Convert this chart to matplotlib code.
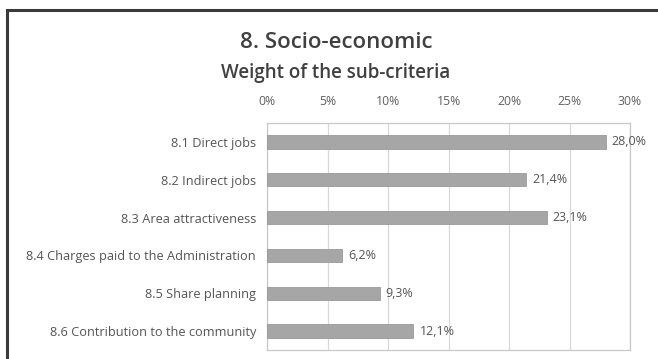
import numpy as np
import matplotlib.pyplot as plt
from matplotlib.patches import Rectangle

# data
categories = ['8.1 Direct jobs', '8.2 Indirect jobs', '8.3 Area attractiveness',
              '8.4 Charges paid to the Administration', '8.5 Share planning',
              '8.6 Contribution to the community']
weights = [28.0, 21.4, 23.1, 6.2, 9.3, 12.1]
ticks = [0, 5, 10, 15, 20, 25, 30]

plt.rcParams['font.family'] = ['Open Sans', 'DejaVu Sans']

fig = plt.figure(figsize=(6.58, 3.59), dpi=100)
W, H = 658, 359

# outer chart frame
fig.patches.append(Rectangle((7 / W, -0.05), 1.1, 1 - 10 / H + 0.05,
                             transform=fig.transFigure, fill=False,
                             edgecolor='#3a3a3a', linewidth=2.2))

ax = fig.add_axes([267 / W, 1 - 350 / H, (630 - 267) / W, (350 - 123) / H])
y = np.arange(len(categories))
ax.barh(y, weights, height=0.35, color='#a6a6a6', edgecolor='#999999', linewidth=0.6, zorder=3)
ax.set_ylim(len(categories) - 0.5, -0.5)
ax.set_xlim(0, 30)
ax.set_xticks(ticks)
ax.set_xticklabels([f'{t}%' for t in ticks])
ax.xaxis.tick_top()
ax.tick_params(axis='x', length=0, pad=11, labelsize=8.8, labelcolor='#606060')
ax.set_yticks(y)
ax.set_yticklabels(categories)
ax.tick_params(axis='y', length=0, pad=8, labelsize=9.2, labelcolor='#555555')
ax.grid(axis='x', color='#d8d8d8', linewidth=0.9, zorder=0)
for s in ax.spines.values():
    s.set_color('#c8c8c8')
    s.set_linewidth(0.9)

for yi, v in zip(y, weights):
    ax.text(v + 0.5, yi, f'{v:.1f}%'.replace('.', ','), va='center', ha='left',
            fontsize=9, color='#555555')

fig.text(336 / W, 1 - 42 / H, '8. Socio-economic', ha='center', va='center',
         fontsize=16, color='#404040', fontweight='semibold')
fig.text(336 / W, 1 - 73 / H, 'Weight of the sub-criteria', ha='center', va='center',
         fontsize=13.5, color='#404040', fontweight='semibold')

fig.savefig('out.png', dpi=100)
